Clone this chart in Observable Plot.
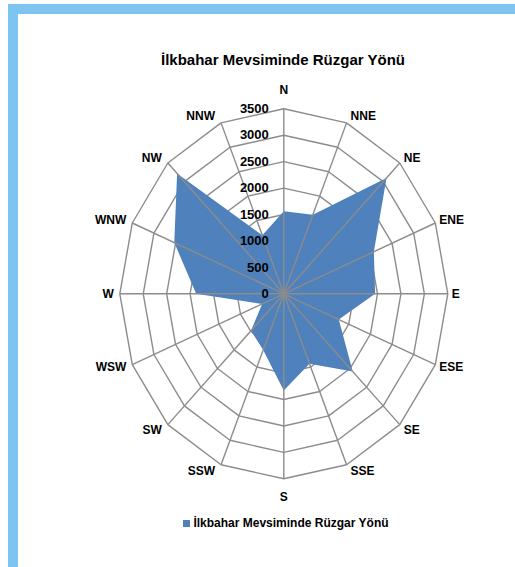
<!DOCTYPE html>
<html>
<head>
<meta charset="utf-8">
<script src="https://cdn.jsdelivr.net/npm/d3@7"></script>
<script src="https://cdn.jsdelivr.net/npm/@observablehq/plot@0.6"></script>
<style>
  html, body { margin: 0; padding: 0; background: #fff; }
  #page { position: relative; width: 515px; height: 567px; overflow: hidden; font-family: "Liberation Sans", Arial, sans-serif; }
  #frame { position: absolute; left: 8px; top: 4px; width: 507px; height: 563px; border-left: 10px solid #7dc5f0; border-top: 10px solid #7dc5f0; box-sizing: border-box; }
  #title { position: absolute; left: 0; width: 566px; top: 51px; text-align: center; font-weight: bold; font-size: 15px; color: #000; line-height: 18px; }
  #legend { position: absolute; left: 0; width: 572px; top: 515px; text-align: center; font-weight: bold; font-size: 12px; color: #000; line-height: 16px; }
  #legend .sw { display: inline-block; width: 7px; height: 7px; background: #4f81bd; margin-right: 3px; vertical-align: 0px; }
  #chart { position: absolute; left: 0; top: 0; }
</style>
</head>
<body>
<div id="page">
  <div id="frame"></div>
  <div id="chart"></div>
  <div id="title">İlkbahar Mevsiminde Rüzgar Yönü</div>
  <div id="legend"><span class="sw"></span>İlkbahar Mevsiminde Rüzgar Yönü</div>
</div>
<script>
const directions = ["N","NNE","NE","ENE","E","ESE","SE","SSE","S","SSW","SW","WSW","W","WNW","NW","NNW"];
const values = [1560, 1620, 3100, 2080, 1950, 1270, 2080, 1430, 1830, 1150, 990, 500, 1870, 2530, 3220, 1200];
const ticks = [0, 500, 1000, 1500, 2000, 2500, 3000, 3500];
const maxR = 3500;

const ang = i => i * 2 * Math.PI / directions.length;
const px = (r, i) => r * Math.sin(ang(i));
const py = (r, i) => r * Math.cos(ang(i));

const rings = ticks.filter(t => t > 0).flatMap(t => directions.map((d, i) => ({t, x: px(t, i), y: py(t, i)})));
const area = directions.map((d, i) => ({d, x: px(values[i], i), y: py(values[i], i)}));
const spokes = directions.map((d, i) => ({d, i}));
const east = spokes.filter(s => s.i > 0 && s.i < 8);
const west = spokes.filter(s => s.i > 8);
const north = spokes.filter(s => s.i === 0);
const south = spokes.filter(s => s.i === 8);

const grid = "#8c8c8c";
const lbl = {fontSize: 12, fontWeight: "bold", fill: "#000"};
const chart = Plot.plot({
  width: 515,
  height: 567,
  margin: 0,
  style: {fontFamily: "Liberation Sans, Arial, sans-serif", background: "transparent", color: "#000"},
  x: {domain: [-maxR, maxR], range: [119.3, 447.3], axis: null},
  y: {domain: [-maxR, maxR], range: [478.3, 108.3], axis: null},
  marks: [
    Plot.line(rings, {x: "x", y: "y", z: "t", curve: "linear-closed", stroke: grid, strokeWidth: 1.4}),
    Plot.line(area, {x: "x", y: "y", curve: "linear-closed", fill: "#4f81bd", stroke: "none"}),
    Plot.link(spokes, {x1: () => 0, y1: () => 0, x2: s => px(maxR, s.i), y2: s => py(maxR, s.i), stroke: grid, strokeWidth: 1.4}),
    Plot.text(ticks, {x: () => 0, y: d => d, text: d => String(d), textAnchor: "end", dx: -15, fontSize: 13, fontWeight: "bold", fill: "#000"}),
    Plot.text(east, {x: s => px(maxR, s.i), y: s => py(maxR + 140, s.i), text: "d", textAnchor: "start", dx: 4, ...lbl}),
    Plot.text(west, {x: s => px(maxR, s.i), y: s => py(maxR + 140, s.i), text: "d", textAnchor: "end", dx: -6, ...lbl}),
    Plot.text(north, {x: s => px(maxR, s.i), y: s => py(maxR, s.i), text: "d", textAnchor: "middle", dy: -19, ...lbl}),
    Plot.text(south, {x: s => px(maxR, s.i), y: s => py(maxR, s.i), text: "d", textAnchor: "middle", dy: 18, ...lbl})
  ]
});
document.getElementById("chart").appendChild(chart);
</script>
</body>
</html>
